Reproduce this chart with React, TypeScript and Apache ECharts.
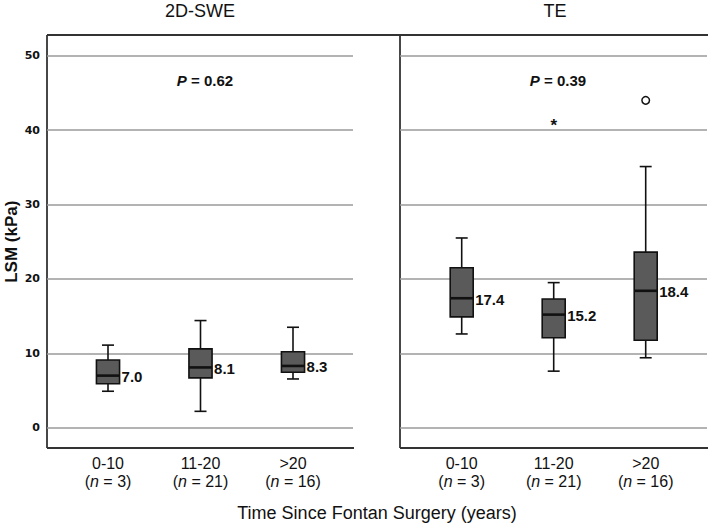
import React, { useEffect, useRef } from 'react';
import * as echarts from 'echarts';

const categories = ['0-10', '11-20', '>20'];
const groupSizes = ['3', '21', '16'];
const panelTitles = ['2D-SWE', 'TE'];
const pValues = ['0.62', '0.39'];
// each row: [min, q1, median, q3, max]
const sweStats = [
  [4.9, 5.9, 7.0, 9.1, 11.1],
  [2.2, 6.7, 8.1, 10.6, 14.4],
  [6.55, 7.45, 8.3, 10.2, 13.5],
];
const teStats = [
  [12.6, 14.9, 17.4, 21.5, 25.5],
  [7.6, 12.1, 15.2, 17.3, 19.5],
  [9.4, 11.75, 18.4, 23.6, 35.1],
];
// [categoryIndex, value, kind]  kind 0 = extreme (*), 1 = outlier (o)
const teOutliers = [
  [1, 41.1, 0],
  [2, 44.0, 1],
];
const sweOutliers: number[][] = [];
const yMin = 0;
const yMax = 50;
const yInterval = 10;
const yAxisTitle = 'LSM (kPa)';
const xAxisTitle = 'Time Since Fontan Surgery (years)';

const FONT = '"Liberation Sans", Arial, sans-serif';
const INK = '#111111';

const renderBox = (params: any, api: any) => {
  const x = api.value(0);
  const vals = [1, 2, 3, 4, 5].map((i) => api.value(i));
  const [pMin, pQ1, pMed, pQ3, pMax] = vals.map((v) => api.coord([x, v]));
  const band = api.size([1, 0])[0];
  const bw = band * 0.25;
  const cw = bw * 0.52;
  const cx = pMed[0];
  const line = (x1: number, y1: number, x2: number, y2: number, w: number) => ({
    type: 'line',
    shape: { x1, y1, x2, y2 },
    style: { stroke: INK, lineWidth: w },
  });
  return {
    type: 'group',
    children: [
      line(cx, pMax[1], cx, pQ3[1], 1.6),
      line(cx, pQ1[1], cx, pMin[1], 1.6),
      line(cx - cw / 2, pMax[1], cx + cw / 2, pMax[1], 1.6),
      line(cx - cw / 2, pMin[1], cx + cw / 2, pMin[1], 1.6),
      {
        type: 'rect',
        shape: { x: cx - bw / 2, y: pQ3[1], width: bw, height: pQ1[1] - pQ3[1] },
        style: { fill: '#5a5a5a', stroke: INK, lineWidth: 1.6 },
      },
      line(cx - bw / 2, pMed[1], cx + bw / 2, pMed[1], 2.6),
      {
        type: 'text',
        style: {
          text: vals[2].toFixed(1),
          x: cx + bw / 2 + 2,
          y: pMed[1] + 1,
          align: 'left',
          verticalAlign: 'middle',
          fontSize: 15,
          fontWeight: 'bold',
          fontFamily: FONT,
          fill: INK,
        },
      },
    ],
  };
};

const renderOutlier = (params: any, api: any) => {
  const p = api.coord([api.value(0), api.value(1)]);
  if (api.value(2) === 1) {
    return {
      type: 'circle',
      shape: { cx: p[0], cy: p[1], r: 3.8 },
      style: { fill: '#ffffff', stroke: INK, lineWidth: 1.5 },
    };
  }
  return {
    type: 'text',
    style: {
      text: '*',
      x: p[0],
      y: p[1] + 4,
      align: 'center',
      verticalAlign: 'middle',
      fontSize: 17,
      fontWeight: 'bold',
      fontFamily: FONT,
      fill: INK,
    },
  };
};

export default function App() {
  const ref = useRef<HTMLDivElement>(null);
  useEffect(() => {
    if (!ref.current) return;
    const chart = echarts.init(ref.current, undefined, { renderer: 'svg' });
    const top = 55.7;
    const height = 372;
    const frames = [
      { left: 47, width: 306 },
      { left: 400, width: 307 },
    ];
    const dataGrids = [
      { left: 61.75, width: 277.5 },
      { left: 415.7, width: 276 },
    ];
    const grids = [...frames, ...dataGrids].map((g) => ({ left: g.left, width: g.width, top, height }));

    const frameY = frames.map((_, i) => ({
      type: 'value',
      gridIndex: i,
      min: yMin,
      max: yMax,
      interval: yInterval,
      axisLine: { show: false },
      axisTick: { show: false },
      splitLine: { show: true, lineStyle: { color: '#9a9a9a', width: 1.5 } },
      axisLabel: {
        show: i === 0,
        margin: 7,
        fontFamily: '"DejaVu Sans", sans-serif',
        fontWeight: 'bold',
        fontSize: 11,
        color: INK,
      },
      name: i === 0 ? yAxisTitle : '',
      nameLocation: 'middle',
      nameGap: 27,
      nameTextStyle: { fontFamily: FONT, fontWeight: 'bold', fontSize: 17, color: INK },
    }));
    const frameX = frames.map((_, i) => ({ type: 'value', gridIndex: i, min: 0, max: 1, show: false }));
    const dataY = dataGrids.map((_, i) => ({
      type: 'value',
      gridIndex: i + 2,
      min: yMin,
      max: yMax,
      show: false,
    }));
    const dataX = dataGrids.map((_, i) => ({
      type: 'category',
      gridIndex: i + 2,
      data: categories,
      axisLine: { show: false },
      axisTick: { show: false },
      splitLine: { show: false },
      axisLabel: {
        margin: 27,
        interval: 0,
        formatter: (v: string, idx: number) => `{a|${v}}\n{a|(}{n|n}{a| = ${groupSizes[idx]})}`,
        rich: {
          a: { fontFamily: FONT, fontSize: 16, color: INK, lineHeight: 18 },
          n: { fontFamily: FONT, fontSize: 16, fontStyle: 'italic', color: INK, lineHeight: 18 },
        },
      },
    }));

    const statsByPanel = [sweStats, teStats];
    const outliersByPanel = [sweOutliers, teOutliers];
    const series: any[] = [];
    statsByPanel.forEach((stats, i) => {
      series.push({
        type: 'custom',
        xAxisIndex: i + 2,
        yAxisIndex: i + 2,
        renderItem: renderBox,
        encode: { x: 0, y: [1, 2, 3, 4, 5] },
        data: stats.map((s, k) => [k, ...s]),
        silent: true,
      });
      series.push({
        type: 'custom',
        xAxisIndex: i + 2,
        yAxisIndex: i + 2,
        renderItem: renderOutlier,
        encode: { x: 0, y: 1 },
        data: outliersByPanel[i],
        silent: true,
      });
    });

    const frameLine = (x1: number, y1: number, x2: number, y2: number) => ({
      type: 'line',
      shape: { x1, y1, x2, y2 },
      style: { stroke: '#333333', lineWidth: 1.8 },
      silent: true,
    });
    const textEl = (text: string, x: number, y: number, size: number, extra: any = {}) => ({
      type: 'text',
      x,
      y,
      style: {
        text,
        fontFamily: FONT,
        fontSize: size,
        fill: INK,
        align: 'center',
        verticalAlign: 'middle',
        ...extra,
      },
      silent: true,
    });
    const pText = (p: string) => `{i|P}{r| = ${p}}`;
    const pRich = {
      i: { fontFamily: FONT, fontSize: 15, fontWeight: 'bold', fontStyle: 'italic', fill: INK },
      r: { fontFamily: FONT, fontSize: 15, fontWeight: 'bold', fill: INK },
    };

    chart.setOption({
      animation: false,
      backgroundColor: '#ffffff',
      grid: grids,
      xAxis: [...frameX, ...dataX],
      yAxis: [...frameY, ...dataY],
      series,
      graphic: [
        frameLine(47, 35, 708, 35),
        frameLine(47, 35, 47, 448),
        frameLine(47, 448, 354, 448),
        frameLine(400, 35, 400, 448),
        frameLine(400, 448, 708, 448),
        textEl(panelTitles[0], 200, 11, 18),
        textEl(panelTitles[1], 555, 11, 18),
        textEl(pText(pValues[0]), 205, 80, 15, { rich: pRich }),
        textEl(pText(pValues[1]), 558, 80, 15, { rich: pRich }),
        textEl(xAxisTitle, 377, 513, 18),
      ],
    });
    return () => chart.dispose();
  }, []);
  return (
    <div
      ref={ref}
      style={{ position: 'fixed', left: 0, top: 0, width: 709, height: 525, background: '#fff' }}
    />
  );
}
